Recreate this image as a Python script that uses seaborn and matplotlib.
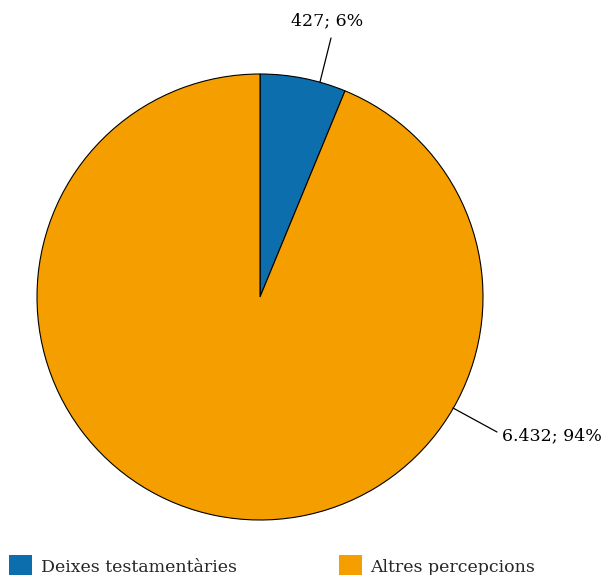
import matplotlib
matplotlib.use("Agg")
import matplotlib.pyplot as plt
import seaborn as sns
import numpy as np

categories = ["Deixes testamentàries", "Altres percepcions"]
values = [427, 6432]
labels = ["427; 6%", "6.432; 94%"]
colors = ["#0d6eae", "#f49e00"]

sns.set_theme(style="white")
plt.rcParams["font.family"] = ["DejaVu Serif"]

W, H = 609, 575
fig = plt.figure(figsize=(W / 100, H / 100), dpi=100)
ax = fig.add_axes([0, 0, 1, 1])
ax.set_xlim(0, W)
ax.set_ylim(0, H)
ax.set_aspect("equal")
ax.axis("off")

cx, cy, r = 260, H - 297, 223
wedges, _ = ax.pie(values, colors=colors, startangle=90, counterclock=False,
                   center=(cx, cy), radius=r, frame=True,
                   wedgeprops=dict(edgecolor="black", linewidth=0.8))
ax.set_xlim(0, W)
ax.set_ylim(0, H)
ax.axis("off")

fs = 12.5
# label for blue slice
ax.plot([320, 331], [H - 82, H - 38], color="black", lw=0.9)
ax.text(327, H - 21, labels[0], ha="center", va="center", fontsize=fs, color="black")
# label for orange slice
ax.plot([453, 497], [H - 408, H - 432], color="black", lw=0.9)
ax.text(502, H - 436, labels[1], ha="left", va="center", fontsize=fs, color="black")

leg = ax.legend(wedges, categories, loc="center left", bbox_to_anchor=(4 / W, (H - 566) / H),
                ncol=2, frameon=False, fontsize=fs, handlelength=1.32, handleheight=1.57,
                handletextpad=0.5, columnspacing=5.87, borderaxespad=0, borderpad=0.3)
for h in leg.legend_handles:
    h.set_edgecolor("none")

fig.savefig("out.png", dpi=100)
